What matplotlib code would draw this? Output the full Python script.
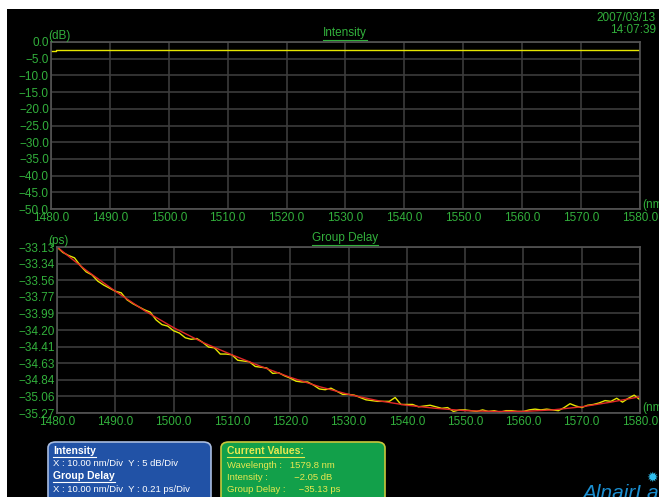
import numpy as np
import matplotlib
matplotlib.use('Agg')
import matplotlib.pyplot as plt
from matplotlib.patches import Rectangle, FancyBboxPatch
from matplotlib.lines import Line2D

plt.rcParams['font.family'] = ['Liberation Sans', 'DejaVu Sans']

# ---- data ----
# intensity (dB), step trace: change points in nm and level after each
int_wl = [1480.0, 1480.8, 1540.3, 1542.6, 1543.8, 1545.8, 1548.0, 1550.0, 1552.3, 1554.3,
          1556.2, 1557.3, 1560.8, 1561.3, 1562.2, 1566.4, 1575.8, 1576.2, 1579.5, 1580.0]
int_db = [-2.7, -2.3, -2.5, -2.3, -2.5, -2.3, -2.5, -2.3, -2.5, -2.3,
          -2.5, -2.3, -2.5, -2.3, -2.5, -2.3, -2.5, -2.3, -2.5, -2.5]

# group delay fit (red), every 5 nm
fit_wl = list(range(1480, 1581, 5))
fit_ps = [-33.13, -33.43, -33.70, -33.95, -34.17, -34.36, -34.52, -34.67, -34.81, -34.93,
          -35.03, -35.11, -35.17, -35.21, -35.24, -35.25, -35.25, -35.23, -35.19, -35.13,
          -35.06]

# group delay measured (yellow), every 1 nm
meas_wl = list(range(1480, 1581))
meas_ps = [-33.13, -33.20, -33.24, -33.27, -33.37, -33.45, -33.49, -33.57, -33.62, -33.66,
           -33.70, -33.72, -33.81, -33.86, -33.90, -33.94, -33.97, -34.07, -34.13, -34.15,
           -34.21, -34.24, -34.30, -34.32, -34.31, -34.36, -34.42, -34.43, -34.51, -34.51,
           -34.52, -34.59, -34.60, -34.61, -34.67, -34.68, -34.69, -34.76, -34.75, -34.79,
           -34.82, -34.86, -34.87, -34.87, -34.91, -34.96, -34.97, -34.95, -34.99, -35.03,
           -35.03, -35.04, -35.07, -35.10, -35.11, -35.12, -35.12, -35.12, -35.07, -35.16,
           -35.16, -35.16, -35.19, -35.18, -35.17, -35.19, -35.21, -35.20, -35.25, -35.23,
           -35.23, -35.24, -35.25, -35.23, -35.25, -35.24, -35.26, -35.24, -35.24, -35.25,
           -35.25, -35.23, -35.22, -35.23, -35.22, -35.23, -35.24, -35.20, -35.15, -35.18,
           -35.20, -35.17, -35.16, -35.14, -35.11, -35.12, -35.08, -35.13, -35.08, -35.04,
           -35.10]

x_ticks = [1480, 1490, 1500, 1510, 1520, 1530, 1540, 1550, 1560, 1570, 1580]
int_ticks = [0, -5, -10, -15, -20, -25, -30, -35, -40, -45, -50]
gd_tick_labels = ['-33.13', '-33.34', '-33.56', '-33.77', '-33.99', '-34.20',
                  '-34.41', '-34.63', '-34.84', '-35.06', '-35.27']

W, H = 659, 497
GREEN = '#32b03c'
GRID = '#3c3c3c'


def px(x, y):
    return x / W, 1 - y / H


def minus(s):
    return s.replace('-', '\u2212')


fig = plt.figure(figsize=(W / 100, H / 100), dpi=100, facecolor='white')
fig.patches.append(Rectangle(px(7, 497), 1, (497 - 9) / H, transform=fig.transFigure,
                             facecolor='black', edgecolor='none', zorder=-10))


def style_axes(ax):
    ax.set_facecolor('black')
    ax.set_xlim(1480, 1580)
    ax.set_xticks(x_ticks)
    ax.set_xticklabels(['%.1f' % v for v in x_ticks])
    ax.grid(True, color=GRID, linewidth=1.2)
    ax.set_axisbelow(True)
    for s in ax.spines.values():
        s.set_color('#555555')
        s.set_linewidth(1.2)
    ax.tick_params(length=0, labelsize=8.5, colors=GREEN, pad=1.5)
    ax.tick_params(axis='x', pad=2.5)


# ---- intensity ----
l, b = px(51, 209)
r, t = px(640, 42)
ax1 = fig.add_axes([l, b, r - l, t - b])
style_axes(ax1)
ax1.set_ylim(-50, 0)
ax1.set_yticks(int_ticks)
ax1.set_yticklabels([minus('%.1f' % v) for v in int_ticks])
ax1.plot(int_wl, int_db, color='#e6e600', linewidth=1, drawstyle='steps-post')

# ---- group delay ----
l, b = px(57, 413)
r, t = px(640, 247)
ax2 = fig.add_axes([l, b, r - l, t - b])
style_axes(ax2)
ax2.set_ylim(-35.27, -33.13)
ax2.set_yticks(np.linspace(-33.13, -35.27, 11))
ax2.set_yticklabels([minus(s) for s in gd_tick_labels])
ax2.plot(meas_wl, meas_ps, color='#e6e600', linewidth=1)
ax2.plot(fit_wl, fit_ps, color='#e02828', linewidth=1)

underlined = []

# ---- titles, units, timestamp ----
for (x, y, txt) in [(345, 33, 'Intensity'), (345, 238, 'Group Delay')]:
    underlined.append(fig.text(*px(x, y), txt, color=GREEN, fontsize=8.5,
                               ha='center', va='center'))

for (x, y, txt) in [(48, 36, '(dB)'), (48, 241, '(ps)')]:
    fig.text(*px(x, y), txt, color=GREEN, fontsize=8.5, ha='left', va='center')
for y in (205, 408):
    fig.text(*px(642, y), '(nm)', color=GREEN, fontsize=8.5, ha='left', va='center')

fig.text(*px(656, 18), '2007/03/13', color=GREEN, fontsize=8.5, ha='right', va='center')
fig.text(*px(656, 30), '14:07:39', color=GREEN, fontsize=8.5, ha='right', va='center')

# ---- info boxes ----
bx, by = px(48, 510)
fig.patches.append(FancyBboxPatch((bx, by), (211 - 48) / W, (510 - 442) / H,
                                  boxstyle='round,pad=0,rounding_size=0.012',
                                  transform=fig.transFigure, facecolor='#2152a6',
                                  edgecolor='#a8bce0', linewidth=1.2))
gx, gy = px(221, 510)
fig.patches.append(FancyBboxPatch((gx, gy), (385 - 221) / W, (510 - 442) / H,
                                  boxstyle='round,pad=0,rounding_size=0.012',
                                  transform=fig.transFigure, facecolor='#12a04a',
                                  edgecolor='#c8c83c', linewidth=1.2))

blue_lines = [(451, 'Intensity', True), (464, 'X : 10.00 nm/Div  Y : 5 dB/Div', False),
              (476, 'Group Delay', True), (489, 'X : 10.00 nm/Div  Y : 0.21 ps/Div', False)]
for y, txt, head in blue_lines:
    t = fig.text(*px(53, y), txt, color='white', fontsize=7.5 if head else 6.8,
                 fontweight='bold' if head else 'normal', ha='left', va='center')
    if head:
        underlined.append(t)

green_lines = [(451, 'Current Values:', True), (465, 'Wavelength :   1579.8 nm', False),
               (477, 'Intensity :          \u22122.05 dB', False),
               (489, 'Group Delay :     \u221235.13 ps', False)]
for y, txt, head in green_lines:
    t = fig.text(*px(227, y), txt, color='#e8e850', fontsize=7.5 if head else 6.8,
                 fontweight='bold' if head else 'normal', ha='left', va='center')
    if head:
        underlined.append(t)

# underline the headings from their drawn extent
renderer = fig.canvas.get_renderer()
for t in underlined:
    bb = t.get_window_extent(renderer).transformed(fig.transFigure.inverted())
    yl = bb.y0 - 1 / H
    fig.lines.append(Line2D([bb.x0, bb.x1], [yl, yl], transform=fig.transFigure,
                            color=t.get_color(), linewidth=0.8))

# logo, cut by the bottom edge
fig.text(*px(582, 484), 'AlnairLabs', color='#1a8ed0', fontsize=15, style='italic',
         ha='left', va='top')
fig.text(*px(652, 478), '\u2739', color='#30c0f0', fontsize=10, ha='center', va='center')

fig.savefig('out.png', dpi=100, facecolor='white')
